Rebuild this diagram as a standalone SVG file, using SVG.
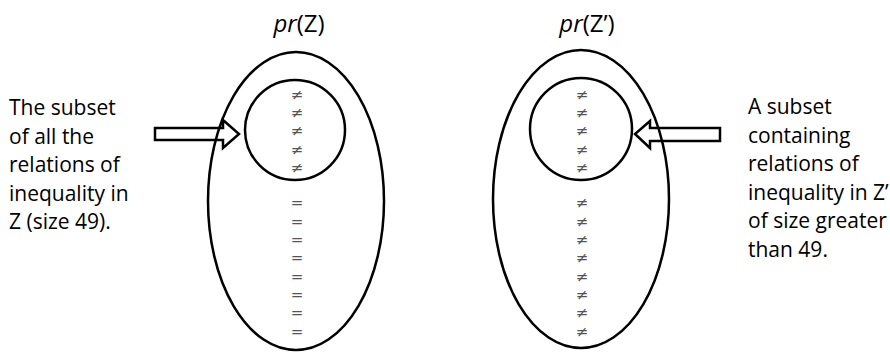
<svg xmlns="http://www.w3.org/2000/svg" width="890" height="359" viewBox="0 0 890 359">
<style>
.lbl{font-family:"Open Sans","Liberation Sans",sans-serif;font-size:21px;fill:#000}
.ttl{font-family:"Open Sans","Liberation Sans",sans-serif;font-size:24px;fill:#000}
.sym{font-family:"DejaVu Sans","Liberation Sans",sans-serif;font-size:15px;fill:#555;text-anchor:middle;dominant-baseline:central}
.shape{fill:none;stroke:#000;stroke-width:2.5}
.arrow{fill:#fff;stroke:#000;stroke-width:2.5;stroke-linejoin:miter}
</style>
<rect width="890" height="359" fill="#fff"/>
<g id="connectors">
<path class="arrow" d="M155,128 H223 V120 L239,134 L223,148 V140 H155 Z"/>
<path class="arrow" d="M720,128 H650 V121 L635,134 L650,148 V141 H720 Z"/>
</g>
<g id="prZ">
<text class="ttl" x="299" y="32" text-anchor="middle"><tspan font-style="italic">pr</tspan>(Z)</text>
<ellipse class="shape" cx="296" cy="201" rx="88" ry="149"/>
</g>
<g id="subsetZ">
<circle class="shape" cx="295" cy="130" r="50"/>
<text class="sym" x="297" y="95">≠</text>
<text class="sym" x="297" y="113">≠</text>
<text class="sym" x="297" y="131">≠</text>
<text class="sym" x="297" y="150">≠</text>
<text class="sym" x="297" y="168">≠</text>
</g>
<g id="eqZ">
<text class="sym" x="297" y="203">=</text>
<text class="sym" x="297" y="222">=</text>
<text class="sym" x="297" y="240">=</text>
<text class="sym" x="297" y="258">=</text>
<text class="sym" x="297" y="277">=</text>
<text class="sym" x="297" y="295">=</text>
<text class="sym" x="297" y="313">=</text>
<text class="sym" x="297" y="332">=</text>
</g>
<g id="prZp">
<text class="ttl" x="587" y="32" text-anchor="middle"><tspan font-style="italic">pr</tspan>(Z’)</text>
<ellipse class="shape" cx="581" cy="199" rx="88" ry="149"/>
</g>
<g id="subsetZp">
<circle class="shape" cx="581" cy="129" r="51"/>
<text class="sym" x="582" y="95">≠</text>
<text class="sym" x="582" y="113">≠</text>
<text class="sym" x="582" y="131">≠</text>
<text class="sym" x="582" y="150">≠</text>
<text class="sym" x="582" y="168">≠</text>
</g>
<g id="neqZp">
<text class="sym" x="582" y="203">≠</text>
<text class="sym" x="582" y="222">≠</text>
<text class="sym" x="582" y="240">≠</text>
<text class="sym" x="582" y="258">≠</text>
<text class="sym" x="582" y="277">≠</text>
<text class="sym" x="582" y="295">≠</text>
<text class="sym" x="582" y="313">≠</text>
<text class="sym" x="582" y="332">≠</text>
</g>
<g id="leftLabel">
<text class="lbl" x="9" y="115">The subset</text>
<text class="lbl" x="9" y="143.5">of all the</text>
<text class="lbl" x="9" y="172">relations of</text>
<text class="lbl" x="9" y="200.5">inequality in</text>
<text class="lbl" x="9" y="229">Z (size 49).</text>
</g>
<g id="rightLabel">
<text class="lbl" x="748" y="114">A subset</text>
<text class="lbl" x="748" y="142.5">containing</text>
<text class="lbl" x="748" y="171">relations of</text>
<text class="lbl" x="748" y="199.5">inequality in Z’</text>
<text class="lbl" x="748" y="228">of size greater</text>
<text class="lbl" x="748" y="256.5">than 49.</text>
</g>
</svg>
